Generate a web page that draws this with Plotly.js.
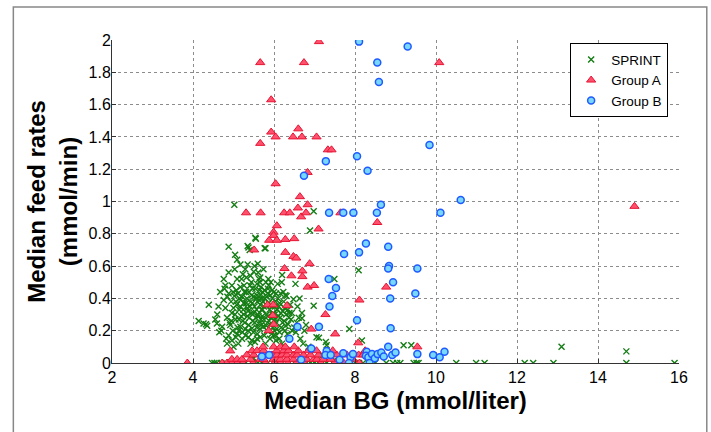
<!DOCTYPE html>
<html>
<head>
<meta charset="utf-8">
<script src="https://cdn.plot.ly/plotly-3.0.1.min.js"></script>
<style>
html,body{margin:0;padding:0;background:#fff;}
#chart{width:711px;height:432px;}
</style>
</head>
<body>
<div id="chart"></div>
<script>
// ---- Data ----
var seriesNames = ["SPRINT", "Group A", "Group B"];

// SPRINT: [median BG, median feed rate]
var sprintPts = [
[4.14,0.26],[4.26,0.245],[4.35,0.23],[4.39,0.36],[4.32,0.24],
[4.55,0.27],[4.59,0.245],[4.63,0.35],[4.67,0.44],[4.60,0.30],[4.70,0.20],[4.72,0.225],[4.65,0.19],
[4.76,0.52],[4.76,0.39],[4.80,0.48],[4.80,0.34],[4.84,0.28],[4.84,0.12],[4.88,0.72],[4.88,0.56],[4.88,0.43],[4.88,0.17],[4.82,0.15],[4.90,0.25],[4.85,0.41],[4.78,0.46],
[4.92,0.235],[4.94,0.38],[4.96,0.48],[4.96,0.31],[4.96,0.14],[5.02,0.415],[5.02,0.98],[5.04,0.67],[5.09,0.64],[5.09,0.52],[5.09,0.18],[4.98,0.20],[5.00,0.34],[5.05,0.27],[5.07,0.45],[5.03,0.58],[5.08,0.36],[5.10,0.22],[5.06,0.16],[5.00,0.10],
[5.13,0.27],[5.17,0.61],[5.17,0.47],[5.17,0.35],[5.17,0.225],[5.21,0.41],[5.21,0.15],[5.25,0.30],[5.29,0.58],[5.20,0.52],[5.22,0.19],[5.15,0.40],[5.27,0.44],[5.24,0.33],[5.28,0.25],[5.12,0.12],[5.26,0.37],[5.19,0.29],[5.30,0.17],[5.23,0.55],
[5.32,0.53],[5.33,0.40],[5.35,0.725],[5.35,0.61],[5.37,0.715],[5.37,0.235],[5.37,0.16],[5.40,0.70],[5.41,0.48],[5.41,0.35],[5.46,0.215],[5.50,0.565],[5.50,0.31],[5.45,0.42],[5.34,0.29],[5.38,0.44],[5.43,0.38],[5.48,0.26],[5.44,0.50],[5.36,0.32],[5.42,0.12],[5.47,0.46],[5.31,0.37],[5.49,0.19],
[5.54,0.775],[5.55,0.77],[5.58,0.49],[5.58,0.42],[5.60,0.615],[5.62,0.245],[5.66,0.53],[5.66,0.36],[5.66,0.16],[5.52,0.35],[5.56,0.40],[5.60,0.30],[5.64,0.45],[5.68,0.27],[5.57,0.22],[5.63,0.39],[5.69,0.33],[5.53,0.13],[5.65,0.50],[5.59,0.18],[5.61,0.56],[5.67,0.42],[5.55,0.28],
[5.74,0.58],[5.74,0.225],[5.77,0.71],[5.79,0.71],[5.83,0.20],[5.72,0.44],[5.75,0.35],[5.78,0.40],[5.80,0.50],[5.82,0.30],[5.85,0.46],[5.87,0.37],[5.88,0.26],[5.71,0.29],[5.76,0.17],[5.84,0.43],[5.86,0.52],[5.89,0.33],[5.73,0.38],[5.81,0.23],[5.79,0.12],
[5.91,0.42],[5.93,0.28],[5.95,0.35],[5.97,0.22],[5.99,0.17],[6.00,0.44],[6.02,0.30],[6.04,0.38],[6.06,0.25],[6.09,0.49],[6.08,0.33],[5.92,0.50],[5.96,0.40],[6.01,0.20],[6.05,0.14],[5.94,0.18],[6.10,0.40],[5.98,0.31],[6.03,0.27],
[6.12,0.35],[6.15,0.28],[6.18,0.22],[6.20,0.545],[6.22,0.32],[6.25,0.26],[6.28,0.42],[6.14,0.19],[6.16,0.43],[6.24,0.38],[6.27,0.20],[6.30,0.30],[6.13,0.15],[6.19,0.50],
[6.31,0.415],[6.35,0.24],[6.38,0.31],[6.42,0.27],[6.48,0.395],[6.50,0.22],[6.53,0.49],[6.54,0.19],[6.58,0.35],[6.40,0.36],[6.45,0.20],[6.33,0.18],[6.56,0.25],
[6.61,0.28],[6.63,0.40],[6.69,0.31],[6.69,0.277],[6.72,0.12],[6.79,0.235],[6.89,0.82],[6.98,0.94],[6.98,0.355],[6.65,0.15],[6.75,0.20],[6.85,0.10],
[7.11,0.157],[7.28,0.13],[7.49,0.52],[7.86,0.21],[8.09,0.575],[8.17,0.14],[9.20,0.11],[9.39,0.11],[13.10,0.10],[14.70,0.072],[7.05,0.16],[7.30,0.11],
[5.50,0.03],[6.10,0.05],[6.80,0.03],[7.20,0.05],[7.50,0.02],
[5.04,0.30],[5.11,0.43],[5.14,0.33],[5.18,0.39],[5.23,0.26],[5.26,0.48],[5.29,0.21],[5.31,0.44],[5.34,0.34],[5.39,0.28],[5.42,0.54],[5.44,0.31],[5.46,0.37],[5.49,0.41],[5.52,0.25],[5.54,0.46],[5.57,0.33],[5.59,0.38],[5.62,0.29],[5.63,0.52],
[5.65,0.21],[5.68,0.47],[5.70,0.40],[5.72,0.33],[5.75,0.27],[5.77,0.45],[5.80,0.36],[5.82,0.41],[5.85,0.29],[5.87,0.48],[5.90,0.24],[5.92,0.36],[5.95,0.45],[5.97,0.30],[6.00,0.26],[6.02,0.35],[6.05,0.43],[6.07,0.21],[6.11,0.29],[6.14,0.37],
[6.17,0.31],[6.21,0.25],[6.23,0.44],[6.26,0.34],[6.29,0.23],[6.34,0.33],[6.37,0.28],[6.44,0.31],[5.36,0.20],[5.45,0.14],[5.58,0.15],[5.70,0.24],[5.90,0.15],[6.04,0.17],[6.20,0.12],[4.95,0.26],[4.99,0.44],[5.06,0.38],[5.13,0.20],[5.52,0.60],
[4.47,0],[4.53,0],[4.59,0],[4.70,0],[4.80,0],[4.90,0],[5.00,0],[5.10,0],[5.20,0],[5.30,0],[5.45,0],[5.60,0],[5.70,0],[5.85,0],[6.00,0],[6.10,0],[6.20,0],[6.35,0],[6.50,0],[6.60,0],[6.70,0],[6.80,0],[6.90,0],[7.00,0],[7.10,0],[7.20,0],[7.30,0],[7.45,0],[7.60,0],[7.75,0],[7.90,0],[8.00,0],[8.10,0],[8.20,0],[8.50,0],[8.77,0],[8.94,0],[9.04,0],[9.12,0],[9.45,0],[9.52,0],[9.57,0],[10.50,0],[10.99,0],[11.20,0],[12.19,0],[12.40,0],[12.90,0],[14.70,0],[15.89,0]
];

// Group A
var groupAPts = [
[7.11,1.99],[5.66,1.86],[6.74,1.86],[10.08,1.86],[5.93,1.63],[5.93,1.43],[6.60,1.45],[5.66,1.36],[6.04,1.40],[6.47,1.40],[6.69,1.40],[7.05,1.40],
[7.33,1.32],[7.42,1.32],[6.83,1.18],[6.04,1.11],[6.64,1.03],[14.90,0.97],[6.83,0.98],[5.31,0.93],[5.67,0.93],[6.25,0.93],[6.39,0.93],[6.59,0.96],
[6.67,0.905],[6.79,0.93],[7.64,0.93],[8.55,0.87],[6.07,0.85],[5.99,0.81],[5.99,0.79],[7.10,0.83],[5.88,0.76],[6.07,0.76],[6.28,0.765],[6.50,0.77],
[5.51,0.70],[6.28,0.685],[6.48,0.66],[6.55,0.65],[6.88,0.615],[6.26,0.585],[6.70,0.57],[6.43,0.54],[6.70,0.535],[6.83,0.47],[6.99,0.48],[8.77,0.47],
[5.84,0.36],[5.98,0.36],[6.32,0.355],[8.11,0.39],[7.27,0.30],[5.97,0.295],[5.99,0.24],[5.87,0.20],[6.92,0.21],[7.51,0.18],[8.08,0.125],[9.54,0.10],
[4.92,0.075],[3.86,0],
[4.72,0],[4.84,0],[4.96,0],[5.09,0],[5.23,0],[5.48,0],[5.79,0],[6.01,0],[6.16,0],[6.34,0],[6.55,0],[6.75,0],[7.16,0],[7.49,0],[7.72,0],[8.11,0],
[4.96,0.023],[5.09,0.023],[5.21,0.023],[5.42,0.023],[5.66,0.023],[5.74,0.023],[5.99,0.023],[6.07,0.023],[6.16,0.023],[6.32,0.023],[6.48,0.023],[6.65,0.023],[6.81,0.023],[6.98,0.023],[7.06,0.023],[7.22,0.023],[7.40,0.023],[7.60,0.023],[7.95,0.023],
[5.33,0.05],[5.50,0.05],[5.70,0.05],[5.83,0.05],[5.95,0.05],[6.07,0.05],[6.20,0.05],[6.32,0.05],[6.48,0.05],[6.57,0.05],[6.73,0.05],[6.90,0.05],[7.10,0.05],[7.31,0.05],[7.55,0.05],[7.80,0.05],[8.09,0.05],[8.20,0.05],
[5.46,0.076],[5.58,0.076],[5.74,0.076],[6.07,0.076],[6.24,0.076],[6.36,0.076],[6.60,0.076],[6.85,0.076],[7.05,0.076],[7.45,0.076],[8.25,0.076],
[5.73,0.10],[5.99,0.10],[6.16,0.10],[6.28,0.10],[6.50,0.10]
];

// Group B
var groupBPts = [
[8.10,1.99],[9.30,1.96],[8.55,1.86],[8.59,1.74],[9.84,1.35],[8.05,1.28],[7.28,1.25],[8.31,1.19],[6.74,1.16],[10.61,1.01],[8.64,0.98],
[7.36,0.93],[7.71,0.93],[7.96,0.93],[8.54,0.93],[10.11,0.93],[8.27,0.74],[8.82,0.72],[8.10,0.685],[7.73,0.675],[8.84,0.60],[8.82,0.585],[9.54,0.585],
[7.35,0.52],[8.94,0.50],[7.53,0.465],[9.49,0.43],[7.44,0.415],[8.87,0.40],[7.37,0.35],[8.05,0.265],[6.58,0.225],[7.11,0.225],[8.88,0.215],[6.38,0.15],
[6.92,0.09],[8.82,0.10],[5.70,0.04],[5.88,0.05],[6.67,0.02],[7.30,0.075],[7.27,0.05],[7.40,0.05],[7.62,0.02],[7.71,0.06],[7.89,0.035],[7.95,0.055],
[7.85,0.0],[8.29,0.07],[8.27,0.045],[8.33,0.035],[8.36,0.0],[8.42,0.055],[8.49,0.03],[8.56,0.055],[8.65,0.065],[8.71,0.04],[8.92,0.05],[9.00,0.065],
[9.54,0.055],[9.93,0.05],[10.09,0.035],[10.21,0.07]
];

var xTickVals = [2,4,6,8,10,12,14,16];
var yTickVals = [0,0.2,0.4,0.6,0.8,1,1.2,1.4,1.6,1.8,2];

function xs(p){return p.map(function(d){return d[0];});}
function ys(p){return p.map(function(d){return d[1];});}

var traces = [
  {type:'scatter', mode:'markers', name:seriesNames[0], x:xs(sprintPts), y:ys(sprintPts),
   marker:{symbol:'x-thin-open', size:6, color:'rgb(20,125,20)', line:{color:'rgb(20,125,20)', width:1.4}}},
  {type:'scatter', mode:'markers', name:seriesNames[1], x:xs(groupAPts), y:ys(groupAPts),
   marker:{symbol:'triangle-up', size:8, color:'rgb(255,80,110)', line:{color:'rgb(230,20,50)', width:1}}},
  {type:'scatter', mode:'markers', name:seriesNames[2], x:xs(groupBPts), y:ys(groupBPts),
   marker:{symbol:'circle', size:7, color:'rgb(120,215,255)', line:{color:'rgb(30,90,255)', width:1.5}}}
];

var fontFam = '"Liberation Sans", Arial, Helvetica, sans-serif';

var layout = {
  width:711, height:432,
  margin:{l:112, r:32, t:40, b:69},
  paper_bgcolor:'#fff', plot_bgcolor:'#fff',
  font:{family:fontFam, color:'#000', size:14},
  showlegend:true,
  legend:{x:0.808, y:0.99, xanchor:'left', yanchor:'top', bgcolor:'#fff',
          bordercolor:'#000', borderwidth:1, font:{size:13.5, family:fontFam}, tracegroupgap:0},
  xaxis:{range:[2,16], tickvals:xTickVals, ticks:'inside', ticklen:4, tickcolor:'#333',
         showline:true, linecolor:'#333', linewidth:1, mirror:false,
         showgrid:true, gridcolor:'rgb(140,140,140)', griddash:'dot', gridwidth:1,
         zeroline:false, tickfont:{size:16},
         title:{text:'<b>Median BG (mmol/liter)</b>', font:{size:24}, standoff:6}},
  yaxis:{range:[0,2], tickvals:yTickVals, ticks:'inside', ticklen:4, tickcolor:'#333',
         showline:true, linecolor:'#333', linewidth:1, mirror:false,
         showgrid:true, gridcolor:'rgb(140,140,140)', griddash:'dot', gridwidth:1,
         zeroline:false, tickfont:{size:16}, ticklabelstandoff:-3,
         title:{text:'<b>Median feed rates<br>(mmol/min)</b>', font:{size:24}, standoff:4}},
  shapes:[{type:'rect', xref:'paper', yref:'paper', x0:-0.174, x1:1.049, y0:-0.3, y1:1.102,
           line:{color:'#888', width:1.5}, fillcolor:'rgba(0,0,0,0)', layer:'below'}]
};

Plotly.newPlot('chart', traces, layout, {displayModeBar:false, staticPlot:true});
</script>
</body>
</html>
